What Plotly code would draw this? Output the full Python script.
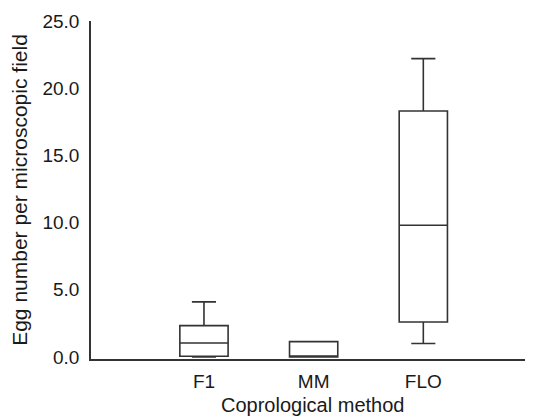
import plotly.graph_objects as go

categories = ["F1", "MM", "FLO"]
lower_whisker = [0.0, 0.0, 1.0]
q1_values = [0.05, 0.0, 2.6]
median_values = [1.04, 0.0, 9.8]
q3_values = [2.33, 1.14, 18.3]
upper_whisker = [4.1, 0.9, 22.2]

y_tickvals = [0, 5, 10, 15, 20, 25]
y_ticktext = ["0.0", "5.0", "10.0", "15.0", "20.0", "25.0"]

x_title = "Coprological method"
y_title = "Egg number per microscopic field"

FONT = "Liberation Sans, Arial, sans-serif"

# The page body has a default 8px margin, so the figure is sized 8px smaller.
fig = go.Figure()
fig.add_trace(go.Box(
    x=categories,
    q1=q1_values,
    median=median_values,
    q3=q3_values,
    lowerfence=lower_whisker,
    upperfence=upper_whisker,
    width=0.44,
    whiskerwidth=0.5,
    fillcolor="rgba(255,255,255,0)",
    line=dict(color="#333333", width=1.6),
    boxpoints=False,
    hoverinfo="skip",
    showlegend=False,
))

fig.update_layout(
    width=525,
    height=409,
    margin=dict(l=83, r=0, t=13, b=58),
    paper_bgcolor="white",
    plot_bgcolor="white",
    font=dict(family=FONT, size=19, color="#1a1a1a"),
    xaxis=dict(
        type="category",
        categoryorder="array",
        categoryarray=categories,
        range=[-1.03, 3.0],
        showgrid=False,
        zeroline=False,
        showline=True,
        linecolor="#333333",
        linewidth=1.6,
        ticks="",
        ticklabelstandoff=4,
        tickfont=dict(size=19),
    ),
    yaxis=dict(
        range=[-0.15, 25.0],
        tickvals=y_tickvals,
        ticktext=y_ticktext,
        showgrid=False,
        zeroline=False,
        showline=True,
        linecolor="#333333",
        linewidth=1.6,
        ticks="",
        ticklabelstandoff=6,
        tickfont=dict(size=19),
        title=dict(text=y_title, font=dict(size=21), standoff=11),
    ),
    annotations=[dict(
        text=x_title,
        xref="paper", yref="paper",
        x=0.5, y=-0.136,
        xanchor="center", yanchor="middle",
        showarrow=False,
        font=dict(size=20, family=FONT, color="#1a1a1a"),
    )],
)

fig.write_html("out.html")
